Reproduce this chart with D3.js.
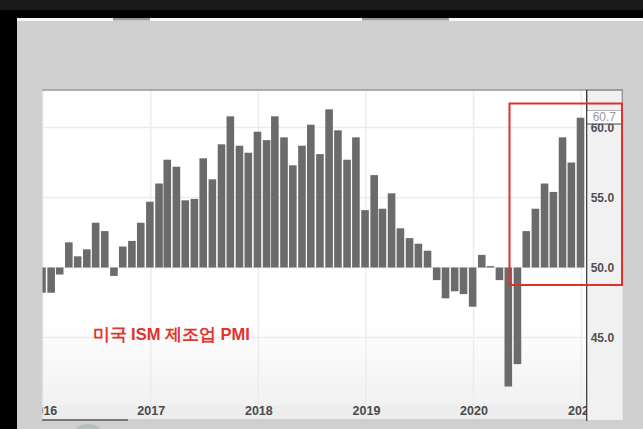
<!DOCTYPE html>
<html>
<head>
<meta charset="utf-8">
<script src="https://cdn.jsdelivr.net/npm/d3@7"></script>
<style>
  html, body { margin: 0; padding: 0; background: #000; overflow: hidden; }
  svg { display: block; }
  text { font-family: "Liberation Sans", Arial, sans-serif; }
</style>
</head>
<body>
<script>
//monthly ISM manufacturing PMI, Dec 2015 .. Dec 2020
const firstMonth = "2015-12";
const pmi = [
    48.2,
    48.2, 49.5, 51.8, 50.8, 51.3, 53.2, 52.6, 49.4, 51.5, 51.9, 53.2, 54.7, //2016
    56.0, 57.7, 57.2, 54.8, 54.9, 57.8, 56.3, 58.8, 60.8, 58.7, 58.2, 59.7, //2017
    59.1, 60.8, 59.3, 57.3, 58.7, 60.2, 58.1, 61.3, 59.8, 57.7, 59.3, 54.1, //2018
    56.6, 54.2, 55.3, 52.8, 52.1, 51.7, 51.2, 49.1, 47.8, 48.3, 48.1, 47.2, //2019
    50.9, 50.1, 49.1, 41.5, 43.1, 52.6, 54.2, 56.0, 55.4, 59.3, 57.5, 60.7  //2020
];
const xTickYears = [2016, 2017, 2018, 2019, 2020, 2021];
const yTicks = [45, 50, 55, 60];
const baseline = 50;
const title = "미국 ISM 제조업 PMI";

window.onload = drawChart();

function drawChart() {
    let width = 643,
        height = 429;

    //plot frame inside the screenshot
    let plot = {left: 42, right: 586.7, top: 90, bottom: 419};

    let svg = d3.select("body")
        .append("svg")
        .attr("width", width)
        .attr("height", height);

    let defs = svg.append("defs");

    let grad = defs.append("linearGradient")
        .attr("id", "plotBg")
        .attr("x1", 0).attr("y1", 0).attr("x2", 0).attr("y2", 1);
    grad.append("stop").attr("offset", "0%").attr("stop-color", "#ffffff");
    grad.append("stop").attr("offset", "70%").attr("stop-color", "#ffffff");
    grad.append("stop").attr("offset", "100%").attr("stop-color", "#efefef");

    defs.append("clipPath")
        .attr("id", "plotClip")
        .append("rect")
        .attr("x", plot.left)
        .attr("y", plot.top)
        .attr("width", plot.right - plot.left)
        .attr("height", plot.bottom - plot.top);

    //screen frame around the chart (video screenshot)
    svg.append("rect")
        .attr("width", width).attr("height", 10)
        .attr("fill", "#1a1a1a");
    svg.append("rect")
        .attr("x", 17).attr("y", 18)
        .attr("width", width - 17).attr("height", 3)
        .attr("fill", "#f6f6f6");
    svg.append("rect")
        .attr("x", 17).attr("y", 21)
        .attr("width", width - 17).attr("height", height - 21)
        .attr("fill", "#cfcfcf");
    [[113, 150], [362, 449]].forEach(function (t) {
        svg.append("rect")
            .attr("x", t[0]).attr("y", 18)
            .attr("width", t[1] - t[0]).attr("height", 2.5)
            .attr("fill", "#9a9a9a");
    });

    //plot panel
    svg.append("rect")
        .attr("x", plot.left).attr("y", plot.top)
        .attr("width", plot.right - plot.left)
        .attr("height", plot.bottom - plot.top)
        .attr("fill", "url(#plotBg)");
    svg.append("rect")
        .attr("x", plot.left).attr("y", 405)
        .attr("width", plot.right - plot.left)
        .attr("height", plot.bottom - 405)
        .attr("fill", "#ededed");

    //right axis panel
    svg.append("rect")
        .attr("x", plot.right).attr("y", plot.top)
        .attr("width", 36).attr("height", plot.bottom + 1 - plot.top)
        .attr("fill", "#f1f1f1");

    //scales
    let x = d3.scaleTime()
        .domain([new Date(2015, 11, 29), new Date(2021, 0, 19)])
        .range([plot.left, plot.right]);

    let y = d3.scaleLinear()
        .domain([62.68, 39.18])
        .range([plot.top, plot.bottom]);

    //gridlines
    let grid = svg.append("g").attr("clip-path", "url(#plotClip)");
    grid.selectAll(".hgrid")
        .data(yTicks)
        .enter()
        .append("line")
        .attr("class", "hgrid")
        .attr("x1", plot.left).attr("x2", plot.right)
        .attr("y1", d => y(d)).attr("y2", d => y(d))
        .attr("stroke", "#ececec")
        .attr("stroke-width", 1.5);
    grid.selectAll(".vgrid")
        .data(xTickYears)
        .enter()
        .append("line")
        .attr("class", "vgrid")
        .attr("x1", d => x(new Date(d, 0, 1))).attr("x2", d => x(new Date(d, 0, 1)))
        .attr("y1", plot.top).attr("y2", plot.bottom)
        .attr("stroke", "#ececec")
        .attr("stroke-width", 1.5);

    //bars
    let start = d3.timeParse("%Y-%m")(firstMonth);
    let data = pmi.map(function (v, i) {
        return {month: d3.timeMonth.offset(start, i), value: v};
    });
    let barW = 7.6;

    svg.append("g")
        .attr("clip-path", "url(#plotClip)")
        .selectAll(".bar")
        .data(data)
        .enter()
        .append("rect")
        .attr("class", "bar")
        .attr("x", function (d) {
            let end = d3.timeDay.offset(d3.timeMonth.offset(d.month, 1), -3);
            return x(end) - barW / 2;
        })
        .attr("y", d => y(Math.max(d.value, baseline)))
        .attr("width", barW)
        .attr("height", d => Math.max(1, Math.abs(y(d.value) - y(baseline))))
        .attr("fill", "#6b6b6b");

    //x axis labels, clipped at the plot edges
    let xAxis = d3.axisBottom(x)
        .tickValues(xTickYears.map(d => new Date(d, 0, 1)))
        .tickFormat(d3.timeFormat("%Y"))
        .tickSize(0);
    let xg = svg.append("g")
        .attr("clip-path", "url(#plotClip)")
        .append("g")
        .attr("transform", "translate(0,403)")
        .call(xAxis);
    xg.select(".domain").remove();
    xg.selectAll("text")
        .attr("font-size", "12.5px")
        .attr("font-weight", "bold")
        .attr("fill", "#4a4a4a")
        .attr("font-family", "Liberation Sans, Arial, sans-serif");

    //y axis on the right
    let yAxis = d3.axisRight(y)
        .tickValues(yTicks)
        .tickFormat(d3.format(".1f"))
        .tickSize(0)
        .tickPadding(4);
    let yg = svg.append("g")
        .attr("transform", "translate(" + plot.right + ",0)")
        .call(yAxis);
    yg.select(".domain").remove();
    yg.selectAll("text")
        .attr("font-size", "12px")
        .attr("font-weight", "bold")
        .attr("fill", "#505050")
        .attr("font-family", "Liberation Sans, Arial, sans-serif");

    //top box and last value label (covers the top of 60.0 as in the source)
    svg.append("rect")
        .attr("x", plot.right).attr("y", plot.top)
        .attr("width", 35.5).attr("height", 21)
        .attr("fill", "#f1f1f1")
        .attr("stroke", "#777")
        .attr("stroke-width", 1);
    svg.append("rect")
        .attr("x", plot.right).attr("y", 111)
        .attr("width", 35.5).attr("height", 13)
        .attr("fill", "#ffffff");
    svg.append("line")
        .attr("x1", plot.right).attr("x2", plot.right + 35.5)
        .attr("y1", 124).attr("y2", 124)
        .attr("stroke", "#444").attr("stroke-width", 1);
    svg.append("text")
        .attr("x", plot.right + 6)
        .attr("y", 117.5)
        .attr("dominant-baseline", "middle")
        .attr("font-size", "12px")
        .attr("fill", "#9a9a9a")
        .text(d3.format(".1f")(pmi[pmi.length - 1]));

    //frame lines
    svg.append("line")
        .attr("x1", plot.left).attr("x2", plot.right + 36)
        .attr("y1", plot.top).attr("y2", plot.top)
        .attr("stroke", "#9a9a9a").attr("stroke-width", 1.5);
    svg.append("line")
        .attr("x1", plot.left).attr("x2", plot.left)
        .attr("y1", plot.top).attr("y2", plot.bottom)
        .attr("stroke", "#d6d6d6").attr("stroke-width", 1);
    svg.append("line")
        .attr("x1", plot.right).attr("x2", plot.right)
        .attr("y1", plot.top).attr("y2", plot.bottom + 2)
        .attr("stroke", "#333").attr("stroke-width", 1.2);

    //scrollbar under the axis
    svg.append("rect")
        .attr("x", plot.left).attr("y", plot.bottom)
        .attr("width", 86).attr("height", 2)
        .attr("fill", "#777");
    svg.append("ellipse")
        .attr("cx", 88).attr("cy", 438)
        .attr("rx", 16).attr("ry", 14)
        .attr("fill", "#b4bcbc");

    //red annotation
    svg.append("rect")
        .attr("x", 509.5).attr("y", 103.5)
        .attr("width", 112.5).attr("height", 181.5)
        .attr("fill", "none")
        .attr("stroke", "#e0302c")
        .attr("stroke-width", 2);
    svg.append("text")
        .attr("x", 92.5)
        .attr("y", 336)
        .attr("dominant-baseline", "middle")
        .attr("font-family", "'Noto Sans CJK KR', sans-serif")
        .attr("font-size", "16.5px")
        .attr("font-weight", "bold")
        .attr("fill", "#e2332f")
        .text(title);
}
</script>
</body>
</html>
